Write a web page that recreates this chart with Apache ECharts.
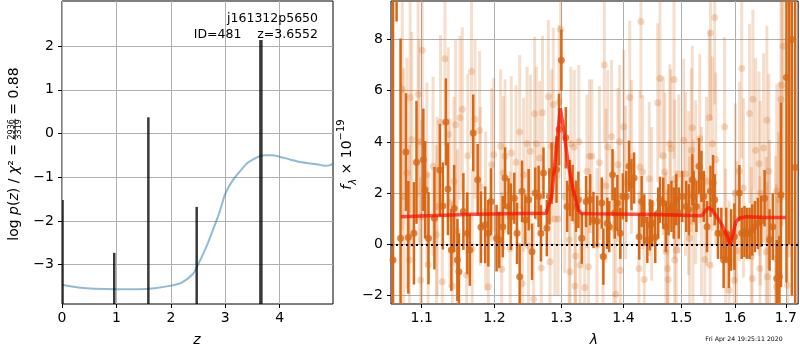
<!DOCTYPE html>
<html>
<head>
<meta charset="utf-8">
<script src="https://cdn.jsdelivr.net/npm/echarts@6.0.0/dist/echarts.min.js"></script>
<style>html,body{margin:0;padding:0;background:#fff}#c{width:800px;height:350px}</style>
</head>
<body>
<div id="c"></div>
<script>
// ---------------- Left panel data: log p(z) ----------------
const zCurve = [0, 0.3, 0.6, 1.0, 1.4, 1.7, 2.0, 2.2, 2.4, 2.5, 2.65, 2.8, 2.9, 3.0, 3.15, 3.3, 3.4, 3.5, 3.63, 3.75, 3.85, 4.0, 4.2, 4.4, 4.6, 4.75, 4.85, 4.92, 4.98];
const logpCurve = [-3.46, -3.52, -3.55, -3.56, -3.56, -3.54, -3.48, -3.41, -3.22, -3.0, -2.6, -2.12, -1.78, -1.38, -1.05, -0.82, -0.68, -0.6, -0.52, -0.5, -0.5, -0.53, -0.6, -0.66, -0.69, -0.72, -0.74, -0.73, -0.69];
const spikeZ = [0.01, 0.96, 1.587, 2.475, 3.655];
const spikeTop = [-1.52, -2.73, 0.37, -1.68, 2.14];
const leftXTicks = [0, 1, 2, 3, 4];
const leftYTicks = [-3, -2, -1, 0, 1, 2];

// ---------------- Right panel data: spectrum ----------------
const darkLam = [1.063,1.0675,1.0726,1.0795,1.0826,1.0899,1.0932,1.1022,1.1045,1.109,1.1169,1.1241,1.1282,1.1323,1.1351,1.1397,1.1436,1.148,1.1501,1.1562,1.1617,1.1652,1.1699,1.1762,1.1808,1.1867,1.1912,1.1949,1.203,1.2069,1.2119,1.2153,1.2203,1.2238,1.2288,1.2328,1.2367,1.2402,1.2451,1.2501,1.2551,1.26,1.265,1.2685,1.2724,1.2775,1.2814,1.2849,1.2924,1.2963,1.2999,1.3068,1.3089,1.3132,1.3175,1.3229,1.3266,1.332,1.3389,1.3454,1.3507,1.3567,1.3642,1.3668,1.3732,1.3764,1.3819,1.3856,1.3899,1.3948,1.399,1.4048,1.4093,1.4135,1.418,1.4266,1.4308,1.4353,1.4405,1.4452,1.4491,1.4543,1.4595,1.4625,1.4682,1.4729,1.4775,1.4827,1.4867,1.4913,1.4958,1.5017,1.5091,1.5139,1.5202,1.5226,1.5276,1.5324,1.5368,1.5411,1.5472,1.5535,1.5583,1.5614,1.5675,1.5738,1.5781,1.5831,1.5879,1.5924,1.5985,1.6081,1.6126,1.6179,1.6225,1.6278,1.6331,1.6382,1.6441,1.6505,1.6573,1.6671,1.6736,1.6815,1.6868,1.6901,1.7012,1.7067,1.7122,1.719];
const darkFlux = [-0.61,12.0,0.24,3.6,0.27,0.43,3.2,3.3,2.13,0.24,1.02,2.9,1.5,4.78,2.16,-0.22,1.4,-0.61,-1.07,1.28,0.43,-0.22,4.35,2.52,0.67,0.76,0.43,1.67,0.24,0.17,0.69,2.59,1.48,1.08,1.8,0.43,-1.27,2.07,0.95,1.74,-0.29,2.0,1.87,0.43,2.78,0.63,1.87,2.78,2.92,4.48,7.19,4.16,1.48,2.2,2.0,1.48,1.74,0.24,1.67,1.74,0.95,0.9,1.61,-0.48,0.82,0.69,2.72,1.22,1.61,0.43,1.87,1.87,3.05,2.33,2.59,0.3,1.67,0.95,0.17,0.76,0.82,0.27,1.22,1.74,1.61,0.69,1.35,1.48,1.22,1.74,1.22,1.87,1.48,1.35,2.52,1.87,1.48,3.05,2.65,1.87,0.69,2.07,2.39,1.74,0.43,0.43,-0.61,0.43,-0.61,0.17,0.3,2.0,0.43,0.5,0.43,0.43,0.56,0.69,0.82,0.9,1.8,0.17,0.69,-1.33,-1.27,1.93,6.51,10.0,8.0,3.0];
const darkErr = [12,3.3,7.8,2.3,2.2,2.0,2.4,2.0,1.9,1.8,2.0,1.8,1.7,1.7,1.8,1.6,1.7,1.6,1.5,1.5,1.6,1.4,1.5,1.4,1.4,1.5,1.3,1.3,1.3,1.1,1.2,1.2,1.1,1.3,1.0,1.2,1.3,1.2,1.0,1.2,1.1,1.0,1.2,1.1,1.0,1.1,1.1,1.2,1.3,1.4,1.2,1.2,1.0,1.1,1.1,1.0,1.1,1.0,1.0,1.0,1.1,1.0,1.0,1.1,1.0,1.0,1.0,1.0,1.1,1.0,0.9,1.0,1.0,1.0,1.0,0.9,1.0,1.0,0.9,1.0,0.9,1.0,1.0,0.9,1.0,1.0,1.0,1.0,1.0,1.0,1.0,1.0,1.0,1.0,1.0,1.0,1.0,1.1,1.0,1.0,1.0,1.0,1.1,1.0,1.0,1.0,1.1,1.0,1.1,1.2,1.3,1.1,1.0,1.0,1.0,1.0,1.0,1.0,1.0,1.0,1.1,1.2,1.3,1.5,1.6,3.6,8,10,10,12];

const lightLam = [1.0748,1.0764,1.0808,1.084,1.0849,1.0871,1.0953,1.0967,1.0986,1.100,1.1008,1.1069,1.1086,1.1151,1.1196,1.1206,1.1251,1.1274,1.131,1.1356,1.1378,1.1411,1.1433,1.1456,1.148,1.1515,1.1548,1.1607,1.1625,1.1675,1.1685,1.1723,1.1789,1.1799,1.1874,1.1912,1.1959,1.199,1.2089,1.2104,1.2128,1.2153,1.2228,1.2243,1.2313,1.2367,1.2406,1.2426,1.2477,1.2497,1.2526,1.2575,1.259,1.2615,1.2665,1.269,1.2709,1.2799,1.2824,1.2849,1.2873,1.2898,1.2948,1.2963,1.2988,1.3052,1.3121,1.3133,1.3148,1.3201,1.3212,1.322,1.3272,1.3293,1.3367,1.3401,1.3427,1.3443,1.3481,1.3566,1.3604,1.3662,1.3684,1.3711,1.3739,1.3803,1.384,1.3872,1.3909,1.3937,1.3948,1.4007,1.4036,1.4106,1.4135,1.4261,1.4279,1.4296,1.4325,1.4353,1.4439,1.4481,1.4585,1.4625,1.4682,1.4711,1.4728,1.4758,1.4768,1.4798,1.4815,1.4872,1.4884,1.4886,1.4913,1.4958,1.5046,1.5078,1.5133,1.5152,1.5183,1.5202,1.5213,1.5263,1.5337,1.5368,1.5431,1.5461,1.5513,1.5529,1.5535,1.5572,1.5614,1.5634,1.5799,1.5819,1.5885,1.5983,1.6002,1.6028,1.6081,1.6126,1.6159,1.6278,1.6311,1.6331,1.6343,1.6396,1.6461,1.6481,1.6488,1.6553,1.6606,1.6619,1.6626,1.6658,1.6671,1.679,1.681,1.6815,1.6854,1.6868,1.6901,1.692,1.6946,1.7033,1.7067];
const lightFlux = [6.05,1.87,2.78,-0.61,5.73,4.09,5.86,4.0,-1.4,1.08,7.58,2.72,-0.81,3.05,0.37,1.48,4.77,-1.46,7.25,4.29,1.61,-1.63,2.46,4.67,0.5,4.94,5.27,-1.2,3.46,6.75,-0.16,4.88,4.44,2.26,1.3,-1.66,3.11,3.5,3.83,-0.97,2.78,3.44,-0.16,3.57,3.2,4.39,-1.53,2.72,3.93,-0.07,3.63,-2.14,5.1,3.93,3.37,-0.92,5.14,5.76,-0.68,3.83,5.46,0.99,0.99,5.57,8.4,1.87,0.17,-1.07,3.93,3.8,-1.63,-0.46,4.0,-0.81,-1.69,2.85,-0.88,3.44,3.44,-0.03,3.18,-0.48,7.0,2.29,3.8,4.2,0.63,-1.95,3.11,4.0,-1.01,4.59,2.42,5.73,3.41,-0.94,3.02,8.7,2.82,-1.37,2.56,1.58,5.53,6.47,3.46,2.82,-0.29,-0.94,-1.37,3.93,3.73,6.44,-0.61,2.55,-0.22,2.75,4.05,2.75,2.0,0.24,3.67,4.55,0.89,2.42,4.12,1.28,-0.59,2.46,4.94,-0.81,8.25,3.93,8.86,3.31,4.59,-0.55,-1.79,-1.4,2.0,-0.25,2.85,6.86,2.2,5.11,-0.48,-1.33,5.66,3.67,3.15,-0.94,2.0,3.76,-0.29,4.84,-1.27,2.85,0.27,-0.55,-1.66,2.07,-0.03,1.74,5.66,6.21,7.73,-1.6,9.5];
const lightErr = [5.5,5.0,4.5,4.5,4.5,4.2,4.0,4.0,4.0,3.8,3.8,3.6,3.6,3.5,3.5,3.5,3.4,3.4,3.4,3.4,3.3,3.3,3.3,3.3,3.2,3.2,3.2,3.2,3.2,3.2,3.1,3.1,3.1,3.1,3.1,3.1,3.0,3.0,3.0,3.0,3.0,3.0,3.0,3.0,3.0,3.0,3.0,3.0,3.0,3.0,3.0,3.0,3.0,3.0,3.0,3.0,3.0,3.0,3.0,3.0,3.0,3.0,3.0,3.0,3.0,3.0,3.0,3.0,3.0,3.0,3.0,3.0,3.0,3.0,3.0,3.0,3.0,3.0,3.0,3.0,3.0,3.0,3.0,3.0,3.0,3.0,3.0,3.0,3.0,3.0,3.0,3.0,3.0,3.0,3.0,3.0,3.0,3.0,3.0,3.0,3.0,3.0,3.1,3.1,3.1,3.1,3.1,3.1,3.1,3.1,3.1,3.1,3.1,3.1,3.1,3.1,3.2,3.2,3.2,3.2,3.2,3.2,3.2,3.2,3.3,3.3,3.3,3.3,3.4,3.4,3.4,3.4,3.4,3.4,3.5,3.5,3.5,3.5,3.5,3.5,3.5,3.5,3.5,3.5,3.5,3.5,3.5,3.6,3.6,3.6,3.6,3.7,3.7,3.7,3.7,3.8,3.8,4.0,4.0,4.2,4.4,4.6,5.0,5.5,6.0,8.0,10.0];

const modelLam = [1.073,1.12,1.17,1.22,1.2764,1.2849,1.2924,1.2983,1.3,1.3052,1.3105,1.3185,1.3266,1.332,1.35,1.45,1.538,1.543,1.55,1.5553,1.5646,1.5738,1.5832,1.5903,1.5952,1.6016,1.608,1.6213,1.66,1.70];
const modelFlux = [1.08,1.13,1.17,1.19,1.21,1.86,3.81,5.31,5.37,4.2,3.16,2.12,1.34,1.2,1.19,1.16,1.12,1.28,1.44,1.35,1.1,0.8,0.4,0.0,0.36,0.88,1.02,1.08,1.05,1.05];

const rightXTicks = [1.1, 1.2, 1.3, 1.4, 1.5, 1.6, 1.7];
const rightYTicks = [-2, 0, 2, 4, 6, 8];

// ---------------- Chart ----------------
const FONT = 'DejaVu Sans';
const chart = echarts.init(document.getElementById('c'), null, {renderer: 'canvas', width: 800, height: 350});
const fmtNum = v => (v < 0 ? '\u2212' + Math.abs(v) : String(v));
const LEFT_YMIN = -3.90;

const DARK = 'rgb(214,104,22)';
const LIGHT_BAR = 'rgba(214,104,22,0.22)';
const LIGHT_PT = 'rgba(214,104,22,0.30)';

// text measurement for the composite y-axis label
const mctx = document.createElement('canvas').getContext('2d');
function tw(t, size, italic) { mctx.font = (italic ? 'italic ' : '') + size + 'px "DejaVu Sans"'; return mctx.measureText(t).width; }
const w1 = tw('log ', 14) + tw('p', 14, true) + tw('(', 14) + tw('z', 14, true) + tw(') / ', 14) + tw('χ', 14, true) + tw('² =', 14);
const wf = tw('3319', 8);
const w3 = tw('= 0.88', 14);
const GAP = 4.5;
const TOT = w1 + GAP + wf + GAP + w3;
const LBL_CY = 154;

function errRender(color, width) {
  return function (params, api) {
    const a = api.coord([api.value(0), api.value(1)]);
    const b = api.coord([api.value(0), api.value(2)]);
    return {type: 'line', shape: {x1: a[0], y1: a[1], x2: b[0], y2: b[1]},
            style: {stroke: color, lineWidth: width}};
  };
}
const darkBars = darkLam.map((l, i) => [l, darkFlux[i] - darkErr[i], darkFlux[i] + darkErr[i]]);
const lightBars = lightLam.map((l, i) => [l, lightFlux[i] - lightErr[i], lightFlux[i] + lightErr[i]]);

const axisCommon = {
  axisLine: {show: false, onZero: false},
  axisTick: {show: true, length: 4, lineStyle: {color: '#000', width: 1}},
  splitLine: {show: true, lineStyle: {color: '#b0b0b0', width: 1}},
};
const labelStyle = {color: '#000', fontSize: 14, fontFamily: FONT};

const option = {
  animation: false,
  backgroundColor: '#fff',
  grid: [
    {left: 62, top: 1, width: 271, height: 303, show: true, borderColor: '#000', borderWidth: 1, backgroundColor: 'transparent'},
    {left: 391, top: 1, width: 408, height: 303, show: true, borderColor: '#000', borderWidth: 1, backgroundColor: 'transparent'}
  ],
  xAxis: [
    Object.assign({}, axisCommon, {gridIndex: 0, type: 'value', min: 0, max: 4.98, position: 'bottom',
      axisTick: Object.assign({}, axisCommon.axisTick, {customValues: leftXTicks}),
      axisLabel: Object.assign({}, labelStyle, {customValues: leftXTicks, margin: 7, formatter: fmtNum})}),
    Object.assign({}, axisCommon, {gridIndex: 1, type: 'log', logBase: 10, min: 1.0604, max: 1.7251, position: 'bottom',
      axisTick: Object.assign({}, axisCommon.axisTick, {customValues: rightXTicks}),
      axisLabel: Object.assign({}, labelStyle, {customValues: rightXTicks, margin: 7, formatter: v => Number(v).toFixed(1)})})
  ],
  yAxis: [
    Object.assign({}, axisCommon, {gridIndex: 0, type: 'value', min: LEFT_YMIN, max: 3.03, position: 'left',
      axisTick: Object.assign({}, axisCommon.axisTick, {customValues: leftYTicks}),
      axisLabel: Object.assign({}, labelStyle, {customValues: leftYTicks, margin: 8, formatter: fmtNum})}),
    Object.assign({}, axisCommon, {gridIndex: 1, type: 'value', min: -2.33, max: 9.50, position: 'left',
      axisTick: Object.assign({}, axisCommon.axisTick, {customValues: rightYTicks}),
      axisLabel: Object.assign({}, labelStyle, {customValues: rightYTicks, margin: 8, formatter: fmtNum})})
  ],
  series: [
    {type: 'line', xAxisIndex: 0, yAxisIndex: 0, data: zCurve.map((z, i) => [z, logpCurve[i]]),
     smooth: 0.3, showSymbol: false, lineStyle: {color: 'rgba(31,119,180,0.5)', width: 2}, z: 3},
    {type: 'custom', xAxisIndex: 0, yAxisIndex: 0, clip: true, z: 4,
     data: spikeZ.map((z, i) => [z, spikeTop[i]]),
     renderItem: function (params, api) {
       const a = api.coord([api.value(0), LEFT_YMIN]);
       const b = api.coord([api.value(0), api.value(1)]);
       const w = api.value(1) > 1.5 ? 3.5 : 2.5;
       return {type: 'line', shape: {x1: a[0], y1: a[1], x2: b[0], y2: b[1]}, style: {stroke: 'rgba(0,0,0,0.78)', lineWidth: w}};
     }},
    {type: 'custom', xAxisIndex: 1, yAxisIndex: 1, clip: true, z: 2, data: lightBars,
     encode: {x: 0, y: [1, 2]}, renderItem: errRender(LIGHT_BAR, 3)},
    {type: 'scatter', xAxisIndex: 1, yAxisIndex: 1, clip: true, z: 3, data: lightLam.map((l, i) => [l, lightFlux[i]]),
     symbol: 'circle', symbolSize: 7, itemStyle: {color: LIGHT_PT}},
    {type: 'custom', xAxisIndex: 1, yAxisIndex: 1, clip: true, z: 4, data: darkBars,
     encode: {x: 0, y: [1, 2]}, renderItem: errRender(DARK, 2.5)},
    {type: 'scatter', xAxisIndex: 1, yAxisIndex: 1, clip: true, z: 5, data: darkLam.map((l, i) => [l, darkFlux[i]]),
     symbol: 'circle', symbolSize: 7, itemStyle: {color: DARK}},
    {type: 'line', xAxisIndex: 1, yAxisIndex: 1, z: 6, data: modelLam.map((l, i) => [l, modelFlux[i]]),
     showSymbol: false, lineStyle: {color: 'rgba(255,10,0,0.7)', width: 3.5},
     markLine: {silent: true, symbol: 'none', label: {show: false}, data: [{yAxis: 0}],
       lineStyle: {color: '#000', type: [2, 3], width: 2}}}
  ],
  graphic: [
    {type: 'text', x: 318, y: 19, z: 100, style: {text: 'j161312p5650', fontSize: 12.5, fontFamily: FONT, fill: '#000', align: 'right', verticalAlign: 'middle'}},
    {type: 'text', x: 318, y: 35, z: 100, style: {text: 'ID=481    z=3.6552', fontSize: 12.5, fontFamily: FONT, fill: '#000', align: 'right', verticalAlign: 'middle'}},
    {type: 'text', x: 197, y: 340, style: {text: 'z', fontSize: 14, fontStyle: 'italic', fontFamily: FONT, fill: '#000', align: 'center', verticalAlign: 'middle'}},
    {type: 'text', x: 594, y: 340, style: {text: 'λ', fontSize: 14, fontStyle: 'italic', fontFamily: FONT, fill: '#000', align: 'center', verticalAlign: 'middle'}},
    {type: 'text', x: 744, y: 339, style: {text: 'Fri Apr 24 19:25:11 2020', fontSize: 6.2, fontFamily: FONT, fill: '#000', align: 'center', verticalAlign: 'middle'}},
    {type: 'group', x: 14, y: LBL_CY + TOT / 2, rotation: Math.PI / 2, children: [
      {type: 'text', x: 0, y: 0, style: {text: '{n|log }{i|p}{n|(}{i|z}{n|) / }{i|χ}{n|² =}', align: 'left', verticalAlign: 'middle',
        fontSize: 14, fontFamily: FONT, fill: '#000',
        rich: {n: {fontSize: 14, fontFamily: FONT, fill: '#000'}, i: {fontSize: 14, fontFamily: FONT, fontStyle: 'italic', fill: '#000'}}}},
      {type: 'text', x: w1 + GAP + wf / 2, y: -2.5, style: {text: '2936', fontSize: 8, fontFamily: FONT, fill: '#000', align: 'center', verticalAlign: 'middle'}},
      {type: 'line', shape: {x1: w1 + GAP - 0.5, y1: 1.2, x2: w1 + GAP + wf + 0.5, y2: 1.2}, style: {stroke: '#000', lineWidth: 0.8}},
      {type: 'text', x: w1 + GAP + wf / 2, y: 5.2, style: {text: '3319', fontSize: 8, fontFamily: FONT, fill: '#000', align: 'center', verticalAlign: 'middle'}},
      {type: 'text', x: w1 + GAP + wf + GAP, y: 0, style: {text: '= 0.88', fontSize: 14, fontFamily: FONT, fill: '#000', align: 'left', verticalAlign: 'middle'}}
    ]},
    {type: 'group', x: 347, y: 154.5, rotation: Math.PI / 2, children: [
      {type: 'text', x: 0, y: 0, style: {text: '{i|f}{sub|λ}{n| × 10}{sup|−19}', align: 'center', verticalAlign: 'middle',
        fontSize: 14, fontFamily: FONT, fill: '#000',
        rich: {
          n: {fontSize: 14, fontFamily: FONT, fill: '#000', lineHeight: 22},
          i: {fontSize: 14, fontFamily: FONT, fontStyle: 'italic', fill: '#000', lineHeight: 22},
          sub: {fontSize: 10, fontFamily: FONT, fontStyle: 'italic', fill: '#000', verticalAlign: 'bottom', lineHeight: 22},
          sup: {fontSize: 10, fontFamily: FONT, fill: '#000', verticalAlign: 'top', lineHeight: 22}
        }}}
    ]}
  ]
};
chart.setOption(option);
</script>
</body>
</html>
